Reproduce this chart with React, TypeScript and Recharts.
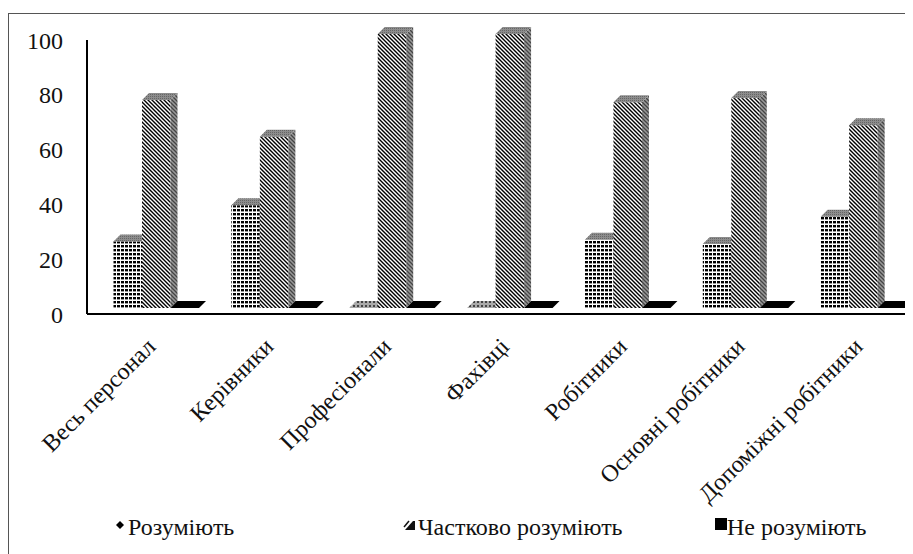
import React from 'react';
import { BarChart, Bar, XAxis, YAxis, Legend } from 'recharts';

// Categories and series values (percent of respondents)
const categories = [
  'Весь персонал',
  'Керівники',
  'Професіонали',
  'Фахівці',
  'Робітники',
  'Основні робітники',
  'Допоміжні робітники',
];
const understand = [24.3, 37.5, 0, 0, 24.9, 23.4, 33.3];
const partly = [75.9, 62.5, 100, 100, 75.1, 76.6, 66.7];
const notUnderstand = [0, 0, 0, 0, 0, 0, 0];

const seriesKeys = ['understand', 'partly', 'notUnderstand'];
const seriesNames = ['Розуміють', 'Частково розуміють', 'Не розуміють'];
const yTicks = [0, 20, 40, 60, 80, 100];

const data = categories.map((name, i) => ({
  name,
  understand: understand[i],
  partly: partly[i],
  notUnderstand: notUnderstand[i],
}));

const FONT = 'Liberation Serif, Times New Roman, DejaVu Serif, serif';
const DEPTH = 7; // 3D depth offset of each column
const SHIFT_X = 10.5; // columns sit right of band centre in the 3D projection
const LIFT = 6; // front face sits above the floor edge

type Faces = { front: string; side: string; top: string };

const faces: Record<string, Faces> = {
  understand: { front: 'url(#pDots)', side: 'url(#pDotsDark)', top: 'url(#pTopGray)' },
  partly: { front: 'url(#pStripes)', side: 'url(#pStripesDark)', top: 'url(#pTopGray)' },
  notUnderstand: { front: '#000', side: '#000', top: '#000' },
};

const makeBox = (key: string) => (props: any) => {
  const { x, y, width, height } = props;
  if (x == null || y == null) return <g />;
  const f = faces[key];
  const X = x + SHIFT_X;
  const Y = y - LIFT;
  const w = width;
  const h = Math.max(0, height);
  const d = DEPTH;
  return (
    <g>
      {h > 0 && <rect x={X} y={Y} width={w} height={h} fill={f.front} />}
      {h > 0 && (
        <polygon
          points={`${X + w},${Y} ${X + w + d},${Y - d} ${X + w + d},${Y + h - d} ${X + w},${Y + h}`}
          fill={f.side}
        />
      )}
      <polygon
        points={`${X},${Y} ${X + d},${Y - d} ${X + w + d},${Y - d} ${X + w},${Y}`}
        fill={key === 'notUnderstand' ? '#000' : h > 0 ? f.top : 'url(#pFloorSlab)'}
      />
    </g>
  );
};

const XTick = (props: any) => {
  const { x, y, payload } = props;
  const ax = x + 11;
  const ay = y + 34;
  return (
    <text
      x={ax}
      y={ay}
      textAnchor="end"
      transform={`rotate(-45 ${ax} ${ay})`}
      style={{ fontFamily: FONT }}
      fontSize={24}
      fill="#111"
    >
      {payload.value}
    </text>
  );
};

const legendX = [104, 394, 703];

const LegendMarker = ({ i, x }: { i: number; x: number }) => {
  if (i === 0) {
    return <polygon points={`${x + 8},${13} ${x + 12},${17} ${x + 8},${21} ${x + 4},${17}`} fill="#000" />;
  }
  if (i === 1) {
    return (
      <g>
        <polygon points={`${x + 3},${22} ${x + 11},${13} ${x + 13},${13} ${x + 13},${22}`} fill="#111" />
        <line x1={x + 2} y1={19} x2={x + 7} y2={13} stroke="#111" strokeWidth={1.5} />
      </g>
    );
  }
  return <rect x={x + 4} y={10} width={12} height={12} fill="#000" />;
};

const LegendContent = () => (
  <svg width={905} height={34} style={{ display: 'block' }}>
    {seriesNames.map((name, i) => (
      <g key={seriesKeys[i]}>
        <LegendMarker i={i} x={legendX[i]} />
        <text x={legendX[i] + 16} y={27} style={{ fontFamily: FONT }} fontSize={24} fill="#111">
          {name}
        </text>
      </g>
    ))}
  </svg>
);

export default function App() {
  return (
    <div style={{ position: 'relative', width: 905, height: 546, overflow: 'hidden', background: '#fff', fontFamily: FONT }}>
      <style>{'body{overflow:hidden}'}</style>
      <div
        style={{
          position: 'absolute',
          left: 0,
          top: 5,
          width: 1200,
          height: 1200,
          border: '1.5px solid #555',
          boxSizing: 'border-box',
        }}
      />
      <BarChart
        width={905}
        height={546}
        data={data}
        margin={{ top: 32, right: 1, bottom: 220, left: 0 }}
        barGap={0}
        style={{ position: 'relative' }}
      >
        <defs>
          <pattern id="pDots" width={4} height={4} patternUnits="userSpaceOnUse">
            <rect width={4} height={4} fill="#fff" />
            <rect x={1} y={1} width={3} height={2} fill="#000" />
            <rect x={1} y={3} width={3} height={1} fill="#999" />
          </pattern>
          <pattern id="pDotsDark" width={4} height={4} patternUnits="userSpaceOnUse">
            <rect width={4} height={4} fill="#999" />
            <rect x={1} y={1} width={2} height={2} fill="#333" />
          </pattern>
          <pattern id="pStripes" width={4} height={4} patternUnits="userSpaceOnUse">
            <rect width={4} height={4} fill="#fff" />
            <path d="M-1,-1 L5,5 M-1,3 L1,5 M3,-1 L5,1" stroke="#000" strokeWidth={1.4} />
          </pattern>
          <pattern id="pStripesDark" width={4} height={4} patternUnits="userSpaceOnUse">
            <rect width={4} height={4} fill="#9a9a9a" />
            <path d="M-1,-1 L5,5 M-1,3 L1,5 M3,-1 L5,1" stroke="#444" strokeWidth={1.3} />
          </pattern>
          <pattern id="pTopGray" width={2} height={2} patternUnits="userSpaceOnUse">
            <rect width={2} height={2} fill="#8c8c8c" />
            <rect width={1} height={1} fill="#666" />
          </pattern>
          <pattern id="pFloorSlab" width={4} height={4} patternUnits="userSpaceOnUse">
            <rect width={4} height={4} fill="#aaa" />
            <rect x={1} y={1} width={2} height={2} fill="#444" />
          </pattern>
        </defs>
        <XAxis
          dataKey="name"
          interval={0}
          tick={<XTick />}
          tickLine={false}
          tickSize={0}
          tickMargin={0}
          height={20}
          axisLine={{ stroke: '#000', strokeWidth: 2 }}
        />
        <YAxis
          domain={[0, 100]}
          ticks={yTicks}
          width={79}
          tickLine={false}
          tickSize={0}
          tickMargin={24}
          axisLine={{ stroke: '#000', strokeWidth: 2 }}
          tick={{ style: { fontFamily: FONT }, fontSize: 24, fill: '#111' }}
        />
        <Legend
          layout="horizontal"
          verticalAlign="middle"
          align="center"
          content={<LegendContent />}
          wrapperStyle={{ left: 0, top: 500, width: 905, height: 34 }}
        />
        <Bar dataKey="understand" name={seriesNames[0]} barSize={28.5} fill="#000" shape={makeBox('understand')} isAnimationActive={false} />
        <Bar dataKey="partly" name={seriesNames[1]} barSize={28.5} fill="#555" shape={makeBox('partly')} isAnimationActive={false} />
        <Bar dataKey="notUnderstand" name={seriesNames[2]} barSize={28.5} fill="#000" shape={makeBox('notUnderstand')} isAnimationActive={false} />
      </BarChart>
    </div>
  );
}
